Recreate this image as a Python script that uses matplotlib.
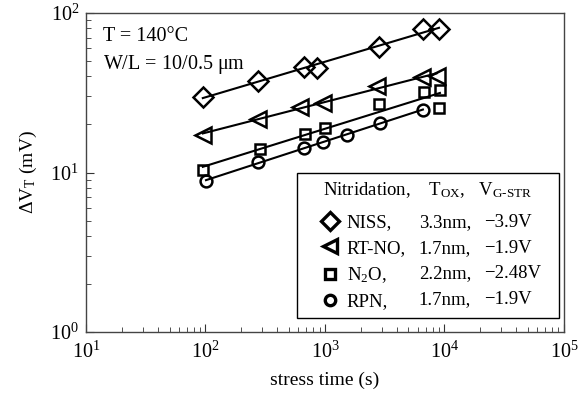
import matplotlib
matplotlib.use('Agg')
import matplotlib.pyplot as plt
from matplotlib.lines import Line2D
import numpy as np

plt.rcParams['font.family'] = ['Liberation Serif', 'DejaVu Serif']
plt.rcParams['mathtext.fontset'] = 'custom'
plt.rcParams['mathtext.rm'] = 'Liberation Serif'
plt.rcParams['mathtext.it'] = 'Liberation Serif:italic'

# data
niss_t = [95, 275, 667, 857, 2830, 6600, 9000]
niss_v = [29.7, 37.5, 45.8, 45.2, 61.2, 79.4, 79.4]
rtno_t = [95, 275, 620, 960, 2700, 6500, 8600]
rtno_v = [17.2, 21.6, 25.8, 27.3, 34.9, 39.7, 40.3]
n2o_t = [95, 286, 681, 1000, 2830, 6780, 9170, 9000]
n2o_v = [10.4, 14.0, 17.4, 19.0, 26.8, 32.0, 32.9, 25.3]
rpn_t = [101, 275, 667, 960, 1530, 2880, 6600]
rpn_v = [8.85, 11.6, 14.3, 15.5, 17.2, 20.4, 24.7]

names = ['NISS,', 'RT-NO,', r'N$_2$O,', 'RPN,']
tox = ['3.3nm,', '1.7nm,', '2.2nm,', '1.7nm,']
vstr = ['−3.9V', '−1.9V', '−2.48V', '−1.9V']
markers = ['D', '<', 's', 'o']
times = [niss_t, rtno_t, n2o_t, rpn_t]
shifts = [niss_v, rtno_v, n2o_v, rpn_v]

sizes = {'D': 10.5, '<': 11, 's': 7.5, 'o': 8.5}
leg_sizes = {'D': 9, '<': 9.5, 's': 6.5, 'o': 7.5}

fig = plt.figure(figsize=(5.85, 4.05), dpi=100)
ax = fig.add_axes([0.147, 0.180, 0.817, 0.788])

handles = []
for t, v, m in zip(times, shifts, markers):
    t = np.array(t, dtype=float)
    v = np.array(v, dtype=float)
    # power-law fit line through the points
    p = np.polyfit(np.log10(t), np.log10(v), 1)
    tt = np.array([t.min(), t.max()])
    ax.plot(tt, 10 ** np.polyval(p, np.log10(tt)), color='black', lw=1.5, zorder=2)
    h, = ax.plot(t, v, linestyle='none', marker=m, ms=sizes[m], mfc='none',
                 mec='black', mew=1.8, zorder=3)
    handles.append(h)

ax.set_xscale('log')
ax.set_yscale('log')
ax.set_xlim(10, 1e5)
ax.set_ylim(1, 100)

ax.tick_params(which='both', direction='in', top=False, right=False,
               labelsize=14.5, color='#333333')
ax.tick_params(axis='x', which='major', pad=7)
ax.tick_params(axis='y', which='major', pad=5)
ax.tick_params(which='major', length=6)
ax.tick_params(which='minor', length=3.5)
for s in ax.spines.values():
    s.set_color('#444444')
    s.set_linewidth(1.0)

ax.set_xlabel('stress time (s)', fontsize=14, labelpad=6)
ax.set_ylabel(r'$\Delta$V$_\mathrm{T}$ (mV)', fontsize=14, labelpad=8)

ax.text(0.035, 0.955, 'T = 140°C', transform=ax.transAxes, fontsize=14.5, va='top')
ax.text(0.035, 0.875, r'W/L = 10/0.5 $\mathrm{\mu}$m', transform=ax.transAxes,
        fontsize=14.5, va='top')

# legend as three columns: names with markers, then oxide thickness, then stress voltage
blank = [Line2D([], [], linestyle='none') for _ in range(8)]
leg = ax.legend(handles=handles + blank, labels=names + tox + vstr, ncol=3,
                loc='lower right', bbox_to_anchor=(0.9895, 0.044),
                fontsize=13.5, frameon=True, fancybox=False, framealpha=1,
                edgecolor='black', handlelength=1.6, handletextpad=0.1,
                columnspacing=-1.0, labelspacing=0.45, borderpad=0.4,
                borderaxespad=0,
                title=r'Nitridation,    T$_\mathrm{OX}$,   V$_\mathrm{G\text{-}STR}$',
                title_fontsize=13.5)
leg.get_frame().set_linewidth(1.0)
leg._legend_box.align = 'center'
leg._legend_box.sep = 10
leg._legend_box.width = 247  # widen the box to match the reference frame
for h in leg.legend_handles:
    if h.get_marker() in leg_sizes:
        h.set_markersize(leg_sizes[h.get_marker()])
        h.set_markeredgewidth(2.4)

fig.savefig('out.png', dpi=100)
